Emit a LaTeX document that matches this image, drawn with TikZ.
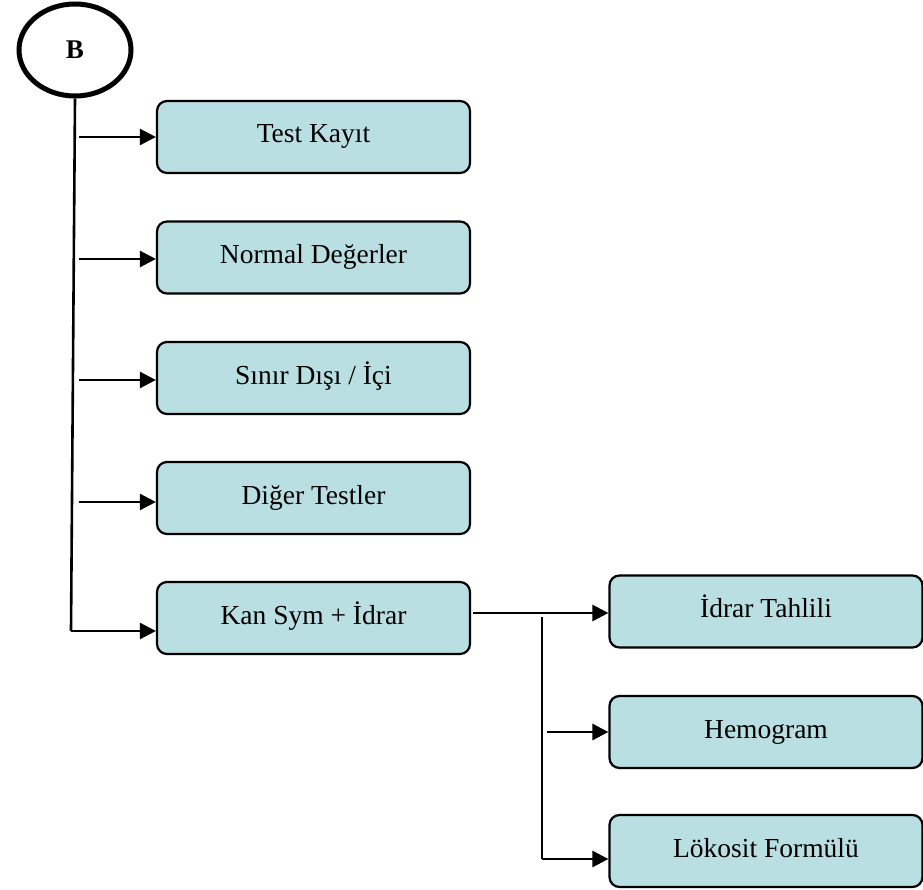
\documentclass[tikz,border=0pt]{standalone}
\usepackage{fontspec}
\setmainfont{Liberation Serif}
\usetikzlibrary{arrows.meta,shapes.geometric}
\definecolor{boxfill}{RGB}{185,223,227}
\tikzset{
  menubox/.style={draw=black, line width=2.2pt, fill=boxfill, rounded corners=10pt,
    minimum width=313pt, minimum height=72pt, inner sep=0pt,
    font=\fontsize{27.5}{32}\selectfont, text height=21pt, text depth=9pt},
  startnode/.style={ellipse, draw=black, line width=5pt, minimum width=112pt,
    minimum height=92pt, inner sep=0pt, font=\fontsize{27}{30}\selectfont\bfseries},
  wire/.style={line width=2.6pt},
  arr/.style={wire, -{Triangle[length=16pt,width=16pt]}}
}
\begin{document}
\begin{tikzpicture}[x=1pt, y=-1pt]
\useasboundingbox (0,0) rectangle (923,890);

% start circle
\node[startnode] (B) at (75,50) {B};

% main column
\node[menubox] (t1) at (313.5,137) {Test Kayıt};
\node[menubox] (t2) at (313.5,257.5) {Normal Değerler};
\node[menubox] (t3) at (313.5,378) {Sınır Dışı / İçi};
\node[menubox] (t4) at (313.5,498) {Diğer Testler};
\node[menubox] (t5) at (313.5,618) {Kan Sym + İdrar};

% sub column
\node[menubox] (u1) at (766,611.5) {İdrar Tahlili};
\node[menubox] (u2) at (766,732) {Hemogram};
\node[menubox] (u3) at (766,851) {Lökosit Formülü};

% trunk from B
\coordinate (tend) at (71,631);
\draw[wire] (B.south) -- (tend);
\coordinate (j1) at (78.5,137);
\coordinate (j2) at (78.5,259);
\coordinate (j3) at (78.5,380);
\coordinate (j4) at (78.5,502);
\draw[arr] (j1) -- (j1 -| t1.west);
\draw[arr] (j2) -- (j2 -| t2.west);
\draw[arr] (j3) -- (j3 -| t3.west);
\draw[arr] (j4) -- (j4 -| t4.west);
\draw[arr] (tend) -- (tend -| t5.west);

% branch from Kan Sym + Idrar
\coordinate (k0) at (473,613);
\draw[arr] (k0) -- (k0 -| u1.west);
\coordinate (k1) at (542,617);
\coordinate (k3) at (542,859);
\draw[wire] (k1) -- (k3);
\draw[arr] (k3) -- (k3 -| u3.west);
\coordinate (k2) at (547,732);
\draw[arr] (k2) -- (k2 -| u2.west);
\end{tikzpicture}
\end{document}
